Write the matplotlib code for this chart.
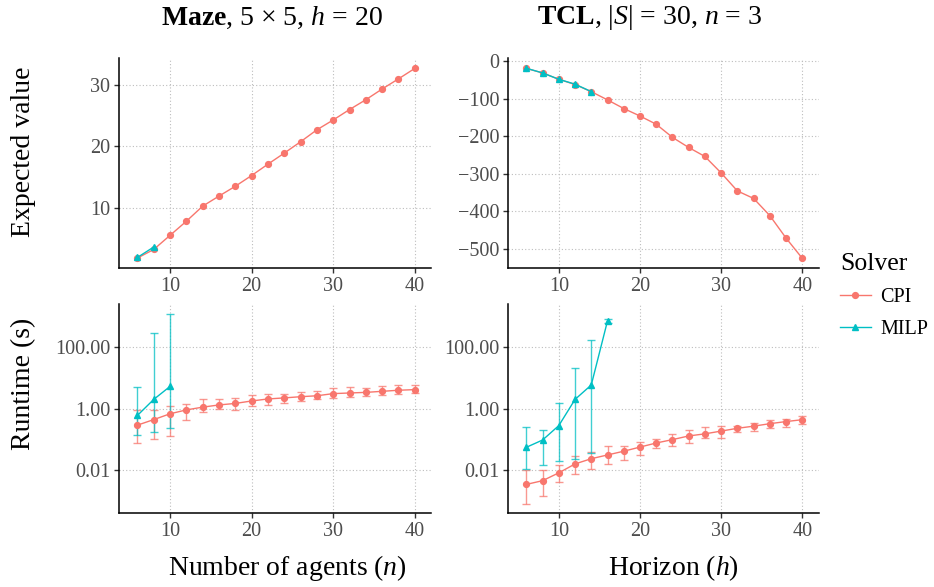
import numpy as np
import matplotlib
matplotlib.use("Agg")
import matplotlib.pyplot as plt
from matplotlib.lines import Line2D
from matplotlib.ticker import FixedLocator, FixedFormatter, NullLocator

plt.rcParams['font.family'] = ['Liberation Serif', 'DejaVu Serif']
plt.rcParams['mathtext.fontset'] = 'custom'
plt.rcParams['mathtext.rm'] = 'Liberation Serif'
plt.rcParams['mathtext.it'] = 'Liberation Serif:italic'
plt.rcParams['mathtext.bf'] = 'Liberation Serif:bold'

CPI_COL = '#F8766D'
MILP_COL = '#00BFC4'

# ---- Maze (x = number of agents) ----
maze_x = [6, 8, 10, 12, 14, 16, 18, 20, 22, 24, 26, 28, 30, 32, 34, 36, 38, 40]
maze_cpi_val = [1.8, 3.2, 5.5, 7.8, 10.26, 11.9, 13.5, 15.25, 17.1, 18.9, 20.75,
                22.7, 24.3, 26.0, 27.6, 29.35, 31.0, 32.7]
maze_milp_x = [6, 8]
maze_milp_val = [1.9, 3.6]

maze_cpi_rt = [0.29, 0.44, 0.68, 0.91, 1.12, 1.32, 1.48, 1.78, 2.07, 2.24, 2.45,
               2.63, 3.09, 3.24, 3.39, 3.67, 3.98, 4.17]
maze_cpi_lo = [0.074, 0.10, 0.13, 0.44, 0.78, 1.0, 0.91, 1.26, 1.29, 1.58, 1.74,
               2.0, 2.19, 2.4, 2.57, 2.82, 3.02, 3.16]
maze_cpi_hi = [0.88, 0.88, 1.26, 1.38, 2.0, 2.0, 2.29, 2.82, 3.09, 3.09, 3.55,
               3.89, 4.79, 5.25, 4.79, 5.37, 5.89, 5.89]
maze_milp_rt_x = [6, 8, 10]
maze_milp_rt = [0.6, 2.0, 5.3]
maze_milp_lo = [0.135, 0.17, 0.23]
maze_milp_hi = [5.0, 288, 1230]

# ---- TCL (x = horizon) ----
tcl_x = [6, 8, 10, 12, 14, 16, 18, 20, 22, 24, 26, 28, 30, 32, 34, 36, 38, 40]
tcl_cpi_val = [-19, -31, -48, -62, -81, -103, -126, -146, -168, -203, -230,
               -254, -298, -346, -366, -412, -472, -526]
tcl_milp_x = [6, 8, 10, 12, 14]
tcl_milp_val = [-18.6, -31, -48, -61, -81]

tcl_cpi_rt = [0.0034, 0.0045, 0.0081, 0.0158, 0.0234, 0.031, 0.041, 0.056, 0.076,
              0.098, 0.129, 0.151, 0.186, 0.229, 0.269, 0.324, 0.38, 0.437]
tcl_cpi_lo = [0.00079, 0.00145, 0.004, 0.0072, 0.0107, 0.0158, 0.0214, 0.032, 0.054,
              0.062, 0.076, 0.107, 0.11, 0.178, 0.19, 0.229, 0.257, 0.309]
tcl_cpi_hi = [0.0098, 0.0098, 0.0145, 0.0295, 0.04, 0.059, 0.059, 0.081, 0.105,
              0.151, 0.2, 0.251, 0.282, 0.269, 0.347, 0.427, 0.468, 0.589]
tcl_milp_rt_x = [6, 8, 10, 12, 14, 16]
tcl_milp_rt = [0.055, 0.095, 0.28, 2.0, 5.9, 724]
tcl_milp_lo = [0.0105, 0.0145, 0.02, 0.0234, 0.0347, 603]
tcl_milp_hi = [0.257, 0.209, 1.48, 21.4, 170, 813]


def style(ax):
    for s in ['top', 'right']:
        ax.spines[s].set_visible(False)
    for s in ['left', 'bottom']:
        ax.spines[s].set_linewidth(1.1)
        ax.spines[s].set_color('black')
    ax.grid(True, linestyle=(0, (1, 2)), color='#BDBDBD', linewidth=0.8)
    ax.set_axisbelow(True)
    ax.tick_params(length=3.5, width=1, color='#333333', labelcolor='#4D4D4D',
                   labelsize=14.5, pad=3)
    ax.set_xlim(3.78, 42.05)
    ax.set_xticks([10, 20, 30, 40])


def line(ax, x, y, col, marker, ms):
    ax.plot(x, y, color=col, lw=1.0, marker=marker, ms=ms, zorder=3)


def errs(ax, x, y, lo, hi, col, marker, ms):
    y = np.array(y)
    yerr = [y - np.array(lo), np.array(hi) - y]
    ax.errorbar(x, y, yerr=yerr, fmt='none', ecolor=col, elinewidth=1.0,
                capsize=3.2, capthick=1.0, alpha=0.75, zorder=2)
    line(ax, x, y, col, marker, ms)


fig = plt.figure(figsize=(9.34, 5.87), dpi=100)
W, H = 934.0, 587.0


def add_ax(x0, x1, y0, y1):
    return fig.add_axes([x0 / W, 1 - y1 / H, (x1 - x0) / W, (y1 - y0) / H])


ax1 = add_ax(119.3, 431.5, 58, 268)
ax2 = add_ax(508.3, 819, 58, 268)
ax3 = add_ax(119.3, 431.5, 304, 513)
ax4 = add_ax(508.3, 819, 304, 513)

for ax in [ax1, ax2, ax3, ax4]:
    style(ax)

line(ax1, maze_x, maze_cpi_val, CPI_COL, 'o', 4.2)
line(ax1, maze_milp_x, maze_milp_val, MILP_COL, '^', 5)
ax1.set_ylim(0.18, 34.4)
ax1.set_yticks([10, 20, 30])

line(ax2, tcl_x, tcl_cpi_val, CPI_COL, 'o', 4.2)
line(ax2, tcl_milp_x, tcl_milp_val, MILP_COL, '^', 5)
ax2.set_ylim(-551.6, 8.8)
ax2.set_yticks([0, -100, -200, -300, -400, -500])
ax2.set_yticklabels(['0', '\u2212100', '\u2212200', '\u2212300', '\u2212400', '\u2212500'])

errs(ax3, maze_x, maze_cpi_rt, maze_cpi_lo, maze_cpi_hi, CPI_COL, 'o', 4.2)
errs(ax3, maze_milp_rt_x, maze_milp_rt, maze_milp_lo, maze_milp_hi, MILP_COL, '^', 5)
errs(ax4, tcl_x, tcl_cpi_rt, tcl_cpi_lo, tcl_cpi_hi, CPI_COL, 'o', 4.2)
errs(ax4, tcl_milp_rt_x, tcl_milp_rt, tcl_milp_lo, tcl_milp_hi, MILP_COL, '^', 5)
for ax in [ax3, ax4]:
    ax.set_yscale('log')
    ax.set_ylim(10 ** -3.40, 10 ** 3.41)
    ax.yaxis.set_major_locator(FixedLocator([0.01, 1, 100]))
    ax.yaxis.set_major_formatter(FixedFormatter(['0.01', '1.00', '100.00']))
    ax.yaxis.set_minor_locator(NullLocator())

fig.text(272 / W, 1 - 18 / H, r'$\mathbf{Maze}$, 5 × 5, $h$ = 20',
         ha='center', va='center', fontsize=20)
fig.text(650 / W, 1 - 18 / H, r'$\mathbf{TCL}$, |$S$| = 30, $n$ = 3',
         ha='center', va='center', fontsize=20)

fig.text(24 / W, 1 - 152 / H, 'Expected value', rotation=90,
         ha='center', va='center', fontsize=20)
fig.text(24 / W, 1 - 384 / H, 'Runtime (s)', rotation=90,
         ha='center', va='center', fontsize=20)
fig.text(287 / W, 1 - 568 / H, r'Number of agents ($n$)',
         ha='center', va='center', fontsize=20)
fig.text(673 / W, 1 - 568 / H, r'Horizon ($h$)',
         ha='center', va='center', fontsize=20)

handles = [Line2D([], [], color=CPI_COL, marker='o', ms=4.2, lw=1.0),
           Line2D([], [], color=MILP_COL, marker='^', ms=5, lw=1.0)]
leg = fig.legend(handles, ['CPI', 'MILP'], title='Solver',
                 loc='upper left', bbox_to_anchor=(840 / W, 1 - 253 / H),
                 frameon=False, fontsize=14.5, title_fontsize=18.5,
                 borderpad=0, borderaxespad=0,
                 handlelength=1.52, labelspacing=0.65, handletextpad=0.47)
leg._legend_box.align = 'left'

fig.savefig('out.png', dpi=100)
